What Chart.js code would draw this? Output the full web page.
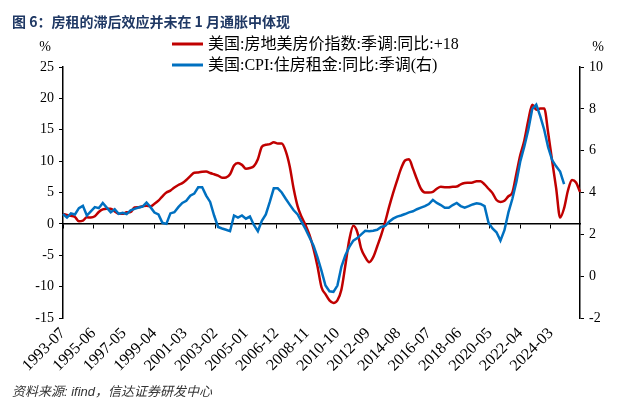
<!DOCTYPE html>
<html>
<head>
<meta charset="utf-8">
<script src="https://cdn.jsdelivr.net/npm/chart.js@4.4.1/dist/chart.umd.min.js"></script>
<style>
  html, body { margin: 0; padding: 0; background: #fff; }
</style>
</head>
<body>
<canvas id="chart" width="622" height="409"></canvas>
<script>
// monthly category axis, 1993-07 .. 2026-01
const startYear = 1993, startMonth = 7, monthCount = 391;
const months = [];
for (let i = 0; i < monthCount; i++) {
  const t = startYear * 12 + startMonth - 1 + i;
  months.push(Math.floor(t / 12) + '-' + String(t % 12 + 1).padStart(2, '0'));
}

const tickLabels = ['1993-07', '1995-06', '1997-05', '1999-04', '2001-03', '2003-02', '2005-01',
  '2006-12', '2008-11', '2010-10', '2012-09', '2014-08', '2016-07', '2018-06', '2020-05',
  '2022-04', '2024-03'];

// values, one every 3 months starting 1993-07
const sampleStep = 3;

// 美国:房地美房价指数:季调:同比 (shifted +18 months), left axis
const hpiYoY18 = [
  1.6, 1.4, 1.3, 1.1, 0.4, 0.5, 1.05, 1.0, 1.2, 1.9,
  2.3, 2.4, 2.4, 2.0, 1.6, 1.6, 1.85, 1.9, 2.6, 2.65,
  2.8, 2.9, 2.8, 3.2, 3.7, 4.4, 5.0, 5.3, 5.8, 6.2,
  6.5, 7.0, 7.6, 8.15, 8.2, 8.3, 8.35, 8.1, 7.9, 7.7,
  7.35, 7.4, 7.9, 9.3, 9.7, 9.4, 8.8, 8.9, 9.2, 10.3,
  12.3, 12.6, 12.7, 13.0, 12.8, 12.8, 11.6, 9.2, 5.6, 2.8,
  1.1, -0.2, -1.8, -4.0, -6.8, -10.1, -11.2, -12.2, -12.6, -12.2,
  -10.5, -6.6, -2.5, -0.3, -1.3, -4.0, -5.3, -6.1, -5.3, -3.6,
  -1.8, 0.3, 2.7, 4.9, 6.9, 8.8, 10.1, 10.3, 8.8, 7.1,
  5.6, 5.0, 5.0, 5.1, 5.6, 5.9, 5.85, 5.85, 5.9, 5.95,
  6.3, 6.5, 6.55, 6.6, 6.8, 6.8, 6.3, 5.6, 4.9, 3.8,
  3.5, 3.7, 4.4, 5.0, 8.0, 11.0, 13.3, 16.5, 19.0, 18.2,
  18.4, 18.4, 14.5, 10.0, 5.7, 1.0, 2.5, 5.4, 7.0, 6.6,
  5.1
];

// 美国:CPI:住房租金:同比:季调, right axis
const rentCpiYoY = [
  2.97, 2.8, 3.0, 2.95, 3.25, 3.36, 2.9, 3.1, 3.3, 3.25,
  3.5, 3.28, 3.05, 3.2, 2.98, 3.03, 2.97, 3.15, 3.22, 3.28,
  3.33, 3.52, 3.3, 3.04, 2.95, 2.55, 2.5, 3.0, 3.06, 3.3,
  3.5, 3.6, 3.85, 3.95, 4.25, 4.25, 3.85, 3.55, 2.9, 2.35,
  2.28, 2.22, 2.15, 2.9, 2.8, 2.9, 2.75, 2.85, 2.45, 2.15,
  2.65, 2.95, 3.55, 4.2, 4.2, 4.0, 3.7, 3.42, 3.15, 2.95,
  2.6, 2.25, 1.85, 1.45, 0.9, 0.25, -0.45, -0.72, -0.75, -0.45,
  0.45, 1.0, 1.4, 1.7, 1.82, 2.0, 2.17, 2.15, 2.17, 2.22,
  2.35, 2.4, 2.6, 2.75, 2.85, 2.9, 2.97, 3.05, 3.1, 3.2,
  3.28, 3.35, 3.45, 3.65, 3.5, 3.4, 3.27, 3.27, 3.4, 3.5,
  3.35, 3.28, 3.35, 3.43, 3.48, 3.45, 3.35, 2.55, 2.28, 2.1,
  1.7, 2.2, 3.05, 3.7, 4.5, 5.5, 6.2, 7.0, 8.0, 8.2,
  7.65, 7.0, 6.15, 5.55, 5.25, 5.0, 4.4
];

const toPoints = arr => arr.map((v, i) => ({ x: months[i * sampleStep], y: v }));

const serif = '"Liberation Serif", "Noto Sans CJK SC", serif';

// '%' unit marks and the overlapping legend
const overlayText = {
  id: 'overlayText',
  afterDraw(chart) {
    const ctx = chart.ctx;
    ctx.save();
    ctx.fillStyle = '#000';
    ctx.font = '14px ' + serif;
    ctx.textAlign = 'center';
    ctx.textBaseline = 'middle';
    ctx.fillText('%', 45, 47);
    ctx.fillText('%', 598, 47);
    ctx.textAlign = 'left';
    ctx.font = '16px ' + serif;
    chart.data.datasets.forEach((ds, i) => {
      const y = 44 + i * 21;
      ctx.strokeStyle = ds.borderColor;
      ctx.lineWidth = 3;
      ctx.beginPath();
      ctx.moveTo(172, y);
      ctx.lineTo(203, y);
      ctx.stroke();
      ctx.fillText(ds.label, 208, y + 1);
    });
    ctx.restore();
  }
};

new Chart(document.getElementById('chart'), {
  type: 'line',
  data: {
    labels: months,
    datasets: [{
      label: '美国:房地美房价指数:季调:同比:+18',
      data: toPoints(hpiYoY18),
      yAxisID: 'y',
      borderColor: '#C00000',
      borderWidth: 2.5,
      pointRadius: 0,
      cubicInterpolationMode: 'monotone',
      order: 1
    }, {
      label: '美国:CPI:住房租金:同比:季调(右)',
      data: toPoints(rentCpiYoY),
      yAxisID: 'y2',
      borderColor: '#0070C0',
      borderWidth: 2.5,
      pointRadius: 0,
      tension: 0,
      order: 0
    }]
  },
  options: {
    responsive: false,
    animation: false,
    layout: { padding: { left: 12, right: 0, top: 0, bottom: 0 } },
    plugins: {
      legend: { display: false },
      tooltip: { enabled: false },
      title: {
        display: true,
        text: '图 6：房租的滞后效应并未在 1 月通胀中体现',
        align: 'start',
        color: '#1F3864',
        font: { family: '"Noto Sans CJK SC"', size: 14, weight: 'bold' },
        padding: { top: 13, bottom: 37.2 }
      },
      subtitle: {
        display: true,
        position: 'bottom',
        text: '资料来源: ifind，信达证券研发中心',
        align: 'start',
        color: '#333',
        font: { family: '"Liberation Sans", "Noto Sans CJK SC"', size: 13, style: 'italic' },
        padding: { top: 0, bottom: 9 }
      }
    },
    scales: {
      x: {
        type: 'category',
        position: 'bottom',
        grid: { display: false, drawTicks: false },
        border: { display: false },
        ticks: {
          autoSkip: false,
          minRotation: 45,
          maxRotation: 45,
          padding: 6,
          color: '#000',
          font: { family: serif, size: 16 },
          callback: function (value) {
            const l = this.getLabelForValue(value);
            return tickLabels.includes(l) ? l : '';
          }
        },
        afterFit: s => { s.height = 66.4; }
      },
      xz: {
        type: 'category',
        position: { y: 0 },
        grid: {
          display: true,
          drawOnChartArea: false,
          drawTicks: true,
          tickLength: 4,
          lineWidth: 1,
          color: c => tickLabels.includes(months[c.index]) ? '#000' : 'rgba(0,0,0,0)'
        },
        border: { display: true, color: '#000', width: 1.5 },
        ticks: { display: false, autoSkip: false }
      },
      y: {
        position: 'left',
        min: -15,
        max: 25,
        ticks: { stepSize: 5, color: '#000', padding: 5, font: { family: serif, size: 14 } },
        grid: { drawOnChartArea: false, drawTicks: true, tickLength: 4, color: '#000' },
        border: { display: true, color: '#000', width: 1.5 },
        afterFit: s => { s.width = 51; }
      },
      y2: {
        position: 'right',
        min: -2,
        max: 10,
        ticks: { stepSize: 2, color: '#000', padding: 5, font: { family: serif, size: 14 } },
        grid: { drawOnChartArea: false, drawTicks: true, tickLength: 4, color: '#000' },
        border: { display: true, color: '#000', width: 1.5 },
        afterFit: s => { s.width = 42; }
      }
    }
  },
  plugins: [overlayText]
});
</script>
</body>
</html>
